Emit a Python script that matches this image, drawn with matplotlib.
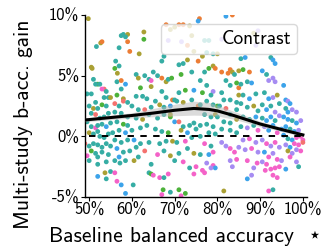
import matplotlib
matplotlib.use("Agg")
import matplotlib.pyplot as plt
from matplotlib.lines import Line2D
from matplotlib.ticker import FuncFormatter

plt.rcParams['font.family'] = ['cmss10', 'DejaVu Sans']
plt.rcParams['mathtext.fontset'] = 'cm'
plt.rcParams['axes.unicode_minus'] = False

# (baseline balanced accuracy, multi-study gain in %, study colour code)
band_50 = [(0.498,9.7,'O'),(0.505,5.7,'O'),(0.507,5.6,'O'),(0.517,7.4,'T'),(0.527,7.7,'O'),(0.530,7.8,'R'),
           (0.51,4.7,'T'),(0.52,4.3,'G'),(0.515,4.3,'T'),(0.525,4.3,'T'),(0.535,3.9,'S'),(0.53,3.9,'P'),
           (0.54,3.7,'T'),(0.545,3.2,'T'),(0.535,3.2,'T'),(0.55,3.2,'O'),(0.495,3.5,'T'),(0.505,3.5,'T'),
           (0.5,2.5,'T'),(0.51,2.3,'O'),(0.515,2.8,'T'),(0.52,2.3,'T'),(0.53,2.6,'G'),(0.54,2.5,'T'),
           (0.505,1.9,'T'),(0.515,1.8,'S'),(0.525,1.5,'T'),(0.535,1.6,'T'),(0.545,1.9,'T'),(0.495,1.2,'T'),
           (0.505,0.8,'T'),(0.515,0.7,'P'),(0.52,0.9,'T'),(0.53,1.0,'T'),(0.54,0.8,'B'),(0.55,1.1,'T'),
           (0.5,0.3,'O'),(0.51,0.2,'T'),(0.52,0.4,'T'),(0.525,0.0,'T'),(0.535,-0.1,'T'),(0.545,0.2,'T'),
           (0.555,0.3,'T'),(0.49,-0.6,'S'),(0.5,-0.8,'T'),(0.51,-0.6,'T'),(0.52,-0.7,'T'),(0.53,-0.9,'T'),
           (0.54,-0.6,'T'),(0.55,-0.8,'T'),(0.505,-1.2,'G'),(0.515,-1.4,'T'),(0.495,-1.6,'P'),(0.52,-1.7,'T'),
           (0.53,-1.3,'T'),(0.545,-1.5,'T'),(0.5,-2.0,'T'),(0.52,-2.3,'T'),(0.54,-2.1,'T'),(0.52,-3.3,'B'),
           (0.537,-3.0,'O'),(0.54,-3.5,'T'),(0.55,-2.9,'T')]
band_55 = [(0.562,6.2,'T'),(0.566,5.2,'O'),(0.57,5.8,'T'),(0.56,5.6,'G'),(0.575,8.3,'T'),(0.58,8.4,'T'),
           (0.59,8.4,'O'),(0.585,8.2,'T'),(0.59,7.8,'R'),(0.595,7.0,'R'),(0.57,7.3,'T'),(0.565,4.5,'T'),
           (0.575,4.6,'R'),(0.585,4.3,'B'),(0.575,3.9,'T'),(0.565,3.4,'G'),(0.58,3.1,'O'),(0.58,2.9,'S'),
           (0.56,2.7,'S'),(0.57,2.5,'T'),(0.59,2.8,'T'),(0.56,2.0,'T'),(0.575,1.9,'T'),(0.59,1.6,'T'),
           (0.565,1.2,'T'),(0.58,1.0,'G'),(0.59,0.9,'T'),(0.57,0.5,'T'),(0.585,0.3,'B'),(0.6,0.5,'T'),
           (0.56,-0.3,'T'),(0.575,-0.5,'T'),(0.59,-0.3,'T'),(0.565,-1.0,'B'),(0.58,-1.3,'T'),(0.595,-1.2,'T'),
           (0.56,-2.0,'T'),(0.572,-2.2,'T'),(0.585,-2.0,'T'),(0.56,-3.0,'P'),(0.565,-3.7,'P'),(0.575,-4.0,'B'),
           (0.585,-4.7,'B'),(0.57,-1.7,'B')]
band_60 = [(0.617,6.8,'O'),(0.628,8.6,'O'),(0.628,8.0,'G'),(0.61,5.1,'T'),(0.615,4.8,'O'),(0.63,5.0,'T'),
           (0.64,4.7,'T'),(0.645,4.6,'P'),(0.62,4.0,'G'),(0.61,3.3,'T'),(0.625,3.3,'T'),(0.635,3.1,'T'),
           (0.645,4.1,'O'),(0.6,2.5,'T'),(0.615,2.2,'T'),(0.63,2.2,'S'),(0.645,2.4,'T'),(0.61,1.5,'T'),
           (0.625,1.4,'O'),(0.64,1.8,'T'),(0.62,0.7,'T'),(0.635,0.9,'T'),(0.605,-0.3,'B'),(0.62,-0.6,'T'),
           (0.64,-0.5,'T'),(0.61,-0.9,'T'),(0.63,-1.2,'S'),(0.605,-2.0,'O'),(0.615,-1.7,'T'),(0.645,-2.3,'T'),
           (0.603,-4.0,'T'),(0.64,-3.0,'T'),(0.645,-3.1,'G'),(0.65,-3.2,'P')]
band_65 = [(0.66,5.0,'T'),(0.67,4.8,'R'),(0.68,4.5,'O'),(0.685,4.7,'T'),(0.693,4.8,'G'),(0.65,5.3,'T'),
           (0.67,3.7,'T'),(0.68,3.2,'T'),(0.695,3.0,'R'),(0.655,2.9,'T'),(0.665,2.6,'O'),(0.675,2.4,'T'),
           (0.69,2.5,'B'),(0.7,3.0,'T'),(0.685,7.9,'V'),(0.67,6.2,'T'),(0.675,6.6,'T'),(0.68,9.2,'R'),
           (0.69,8.8,'O'),(0.7,9.0,'O'),(0.71,9.2,'R'),(0.66,1.5,'T'),(0.675,1.8,'T'),(0.69,1.6,'G'),
           (0.69,1.8,'O'),(0.655,0.6,'T'),(0.67,0.4,'T'),(0.685,0.3,'G'),(0.7,1.2,'B'),(0.665,-0.6,'T'),
           (0.68,-0.4,'T'),(0.695,-0.4,'O'),(0.66,-1.5,'P'),(0.675,-1.2,'T'),(0.69,-1.6,'O'),(0.7,-2.0,'T'),
           (0.665,-3.4,'P'),(0.675,-3.4,'T'),(0.685,-3.1,'P'),(0.673,-4.4,'G'),(0.67,-4.8,'P'),(0.69,-4.6,'T')]
band_70 = [(0.716,7.8,'V'),(0.72,9.2,'R'),(0.735,9.1,'O'),(0.74,8.3,'O'),(0.73,7.5,'R'),(0.745,7.0,'O'),
           (0.755,6.2,'R'),(0.71,5.9,'T'),(0.72,6.0,'T'),(0.73,6.3,'O'),(0.715,5.1,'G'),(0.74,5.3,'T'),
           (0.71,3.6,'T'),(0.725,3.8,'G'),(0.745,3.8,'B'),(0.705,2.9,'T'),(0.72,2.8,'O'),(0.74,3.0,'T'),
           (0.755,2.5,'R'),(0.71,1.2,'S'),(0.72,0.8,'T'),(0.735,0.9,'T'),(0.745,1.1,'T'),(0.715,0.5,'O'),
           (0.73,0.3,'B'),(0.75,0.6,'T'),(0.705,-0.5,'T'),(0.725,-0.4,'P'),(0.74,-0.1,'T'),(0.71,-1.4,'T'),
           (0.73,-1.0,'T'),(0.745,-1.4,'O'),(0.72,-2.1,'P'),(0.735,-2.6,'T'),(0.75,-2.5,'P'),(0.71,-4.4,'G'),
           (0.725,-4.7,'G'),(0.715,-4.9,'P'),(0.745,-3.1,'P')]
band_75 = [(0.758,9.7,'R'),(0.755,9.5,'B'),(0.77,7.9,'T'),(0.78,7.9,'T'),(0.765,6.6,'O'),(0.775,6.9,'T'),
           (0.79,6.8,'T'),(0.8,6.8,'O'),(0.77,5.3,'T'),(0.78,5.6,'G'),(0.79,5.8,'O'),(0.795,5.6,'R'),
           (0.76,4.6,'T'),(0.775,4.2,'T'),(0.79,3.7,'V'),(0.765,3.6,'G'),(0.785,3.4,'T'),(0.76,2.6,'T'),
           (0.775,2.9,'T'),(0.79,2.6,'T'),(0.8,2.5,'G'),(0.77,1.8,'T'),(0.785,1.6,'T'),(0.795,1.8,'O'),
           (0.76,0.9,'T'),(0.775,1.0,'T'),(0.79,0.8,'T'),(0.76,0.0,'T'),(0.78,0.3,'T'),(0.795,0.2,'T'),
           (0.77,-0.6,'P'),(0.785,-0.8,'T'),(0.76,-1.5,'T'),(0.78,-1.5,'B'),(0.79,-1.3,'P'),(0.775,-2.2,'V'),
           (0.79,-2.4,'P'),(0.795,-2.6,'B'),(0.77,-3.0,'P'),(0.765,-2.8,'P'),(0.785,-2.6,'V')]
band_80 = [(0.81,5.3,'R'),(0.825,5.2,'R'),(0.83,5.5,'R'),(0.835,5.3,'O'),(0.84,5.1,'T'),(0.85,5.4,'O'),
           (0.82,4.6,'T'),(0.83,4.2,'T'),(0.845,4.4,'G'),(0.85,4.0,'R'),(0.81,3.6,'T'),(0.815,3.0,'T'),
           (0.83,3.0,'T'),(0.845,2.8,'T'),(0.85,3.4,'O'),(0.805,2.5,'T'),(0.82,2.3,'S'),(0.83,1.8,'T'),
           (0.845,2.2,'T'),(0.8,1.6,'T'),(0.815,1.2,'T'),(0.83,1.1,'T'),(0.845,1.4,'O'),(0.81,0.6,'T'),
           (0.83,0.5,'T'),(0.845,0.3,'T'),(0.81,-0.5,'V'),(0.82,-0.8,'V'),(0.83,-1.0,'P'),(0.84,-1.3,'P'),
           (0.85,-0.9,'V'),(0.815,-4.5,'O'),(0.83,-2.0,'V'),(0.845,-1.9,'P'),(0.835,-2.5,'V'),(0.82,9.9,'B'),
           (0.835,10.0,'R'),(0.81,8.0,'V')]
band_85 = [(0.855,6.4,'T'),(0.865,6.5,'B'),(0.86,5.5,'G'),(0.875,5.3,'R'),(0.855,4.3,'T'),(0.87,4.5,'T'),
           (0.88,4.4,'B'),(0.86,3.4,'T'),(0.875,3.1,'B'),(0.89,3.5,'T'),(0.855,2.7,'T'),(0.87,2.4,'T'),
           (0.885,2.5,'O'),(0.895,2.1,'T'),(0.86,1.6,'T'),(0.875,1.4,'T'),(0.89,1.6,'B'),(0.855,0.8,'T'),
           (0.87,0.7,'V'),(0.885,0.9,'T'),(0.895,0.5,'P'),(0.86,-0.3,'V'),(0.875,-0.2,'P'),(0.89,-0.5,'V'),
           (0.865,-1.1,'V'),(0.88,-1.0,'P'),(0.895,-1.3,'V'),(0.87,-2.0,'P'),(0.885,-2.6,'V'),(0.893,-2.2,'P'),
           (0.88,-3.2,'V'),(0.87,-3.5,'B'),(0.885,8.5,'O'),(0.895,8.7,'V'),(0.89,7.5,'V')]
band_90 = [(0.905,5.4,'B'),(0.915,5.1,'T'),(0.92,4.6,'V'),(0.93,4.8,'V'),(0.935,4.5,'V'),(0.925,6.5,'T'),
           (0.93,6.3,'B'),(0.935,6.0,'B'),(0.91,3.6,'T'),(0.92,3.1,'B'),(0.93,3.2,'V'),(0.94,3.4,'O'),
           (0.905,2.6,'T'),(0.915,2.2,'B'),(0.925,2.5,'T'),(0.935,2.0,'V'),(0.945,2.7,'T'),(0.905,1.5,'T'),
           (0.915,1.3,'B'),(0.925,1.6,'B'),(0.935,1.3,'T'),(0.945,1.7,'V'),(0.91,0.8,'V'),(0.92,0.5,'B'),
           (0.93,0.9,'B'),(0.94,0.3,'P'),(0.95,0.6,'B'),(0.905,-0.3,'V'),(0.915,-0.6,'P'),(0.925,-0.8,'V'),
           (0.935,-0.5,'P'),(0.945,-0.9,'V'),(0.91,-1.3,'B'),(0.92,-1.7,'P'),(0.93,-1.4,'V'),(0.94,-1.9,'P'),
           (0.905,-2.1,'V'),(0.915,-2.3,'P'),(0.925,-2.7,'P'),(0.935,-2.6,'P'),(0.945,-2.5,'P'),(0.93,-3.2,'P'),
           (0.94,-3.4,'P'),(0.92,-4.5,'P'),(0.93,-4.4,'T'),(0.912,-2.8,'P')]
band_95 = [(0.955,4.2,'B'),(0.96,3.0,'B'),(0.965,2.9,'V'),(0.97,2.7,'B'),(0.96,2.3,'T'),(0.965,2.0,'B'),
           (0.975,2.2,'V'),(0.985,2.0,'V'),(0.955,1.6,'B'),(0.965,1.4,'B'),(0.975,1.3,'T'),(0.985,1.1,'B'),
           (0.995,1.3,'V'),(0.96,0.8,'B'),(0.97,0.6,'T'),(0.98,0.4,'B'),(0.99,0.5,'V'),(0.955,0.1,'B'),
           (0.965,-0.2,'T'),(0.975,-0.3,'B'),(0.985,-0.1,'P'),(0.995,0.0,'P'),(1.0,-0.3,'P'),(0.96,-0.7,'V'),
           (0.97,-0.9,'B'),(0.98,-0.6,'P'),(0.99,-0.7,'P'),(1.0,-0.5,'S'),(0.965,-1.2,'O'),(0.975,-1.4,'V'),
           (0.985,-1.1,'V'),(0.995,-1.2,'P'),(0.96,-2.7,'B'),(0.985,-2.1,'V'),(0.99,-2.5,'T'),(0.97,-1.7,'P'),
           (0.95,-2.0,'V')]

study_colors = {'T': '#36ada4', 'G': '#4cb23a', 'O': '#aaa034', 'R': '#ec7d35', 'S': '#f4726f',
                'P': '#f462c8', 'V': '#a68cf2', 'B': '#3ca3ea'}

# regression trend and confidence band
trend_x = [0.49, 0.55, 0.60, 0.65, 0.70, 0.745, 0.78, 0.80, 0.84, 0.90, 0.955, 1.00]
trend_y = [1.35, 1.55, 1.72, 1.92, 2.15, 2.30, 2.22, 2.10, 1.70, 1.02, 0.52, 0.12]
trend_lo = [1.20, 1.38, 1.52, 1.62, 1.70, 1.75, 1.72, 1.68, 1.40, 0.80, 0.36, -0.02]
trend_hi = [1.50, 1.72, 1.95, 2.30, 2.65, 2.90, 2.80, 2.55, 2.05, 1.25, 0.70, 0.26]

x_ticks = [0.5, 0.6, 0.7, 0.8, 0.9, 1.0]
y_ticks = [-5, 0, 5, 10]
legend_label = 'Contrast'

fig = plt.figure(figsize=(3.24, 2.46), dpi=100)
ax = fig.add_axes([0.262, 0.199, 0.686, 0.740])

pts = band_50 + band_55 + band_60 + band_65 + band_70 + band_75 + band_80 + band_85 + band_90 + band_95
ax.scatter([p[0] for p in pts], [p[1] for p in pts], c=[study_colors[p[2]] for p in pts],
           s=12, linewidths=0, zorder=2)

ax.fill_between(trend_x, trend_lo, trend_hi, color='#b8b8b8', alpha=0.5, linewidth=0, zorder=3)
ax.plot(trend_x, trend_y, color='black', linewidth=2.2, zorder=4)
ax.plot([0.5, 1.0], [0, 0], color='black', linestyle=(0, (3.3, 3.3)), linewidth=1.4, zorder=4)

ax.set_xlim(0.49, 1.01)
ax.set_ylim(-5, 10)
ax.set_xticks(x_ticks)
ax.set_yticks(y_ticks)
ax.xaxis.set_major_formatter(FuncFormatter(lambda v, p: f"{v*100:.0f}%"))
ax.yaxis.set_major_formatter(FuncFormatter(lambda v, p: f"{v:.0f}%"))
ax.tick_params(labelsize=12, length=3, pad=1)
for s in ['top', 'right']:
    ax.spines[s].set_visible(False)
ax.spines['left'].set_linewidth(1.0)
ax.spines['bottom'].set_linewidth(1.0)

ax.set_xlabel('Baseline balanced accuracy  \u22c6', fontsize=15.5)
ax.set_ylabel('Multi-study b-acc. gain', fontsize=15.5)
ax.xaxis.set_label_coords(0.452, -0.165)
ax.yaxis.set_label_coords(-0.235, 0.40)

leg = ax.legend([Line2D([], [], linestyle='none')], [legend_label], loc='upper right',
                fontsize=14, handlelength=2.0, framealpha=0.8, edgecolor='#d0d0d0',
                bbox_to_anchor=(0.955, 0.95), borderaxespad=0, borderpad=0.3)
leg.set_zorder(5)

fig.savefig('out.png', dpi=100)
